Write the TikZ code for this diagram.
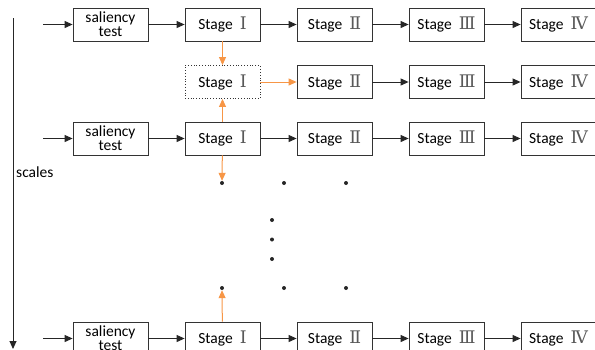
\documentclass[tikz,border=0pt]{standalone}
\usepackage{fontspec}
\setmainfont{Carlito}
\newfontfamily\numfont[Scale=1.12]{DejaVu Serif}
\usetikzlibrary{arrows.meta}
\definecolor{oline}{RGB}{247,150,70}
\begin{document}
\begin{tikzpicture}[x=1pt,y=-1pt,
  box/.style={draw=black!80,line width=0.8pt,minimum width=75pt,minimum height=33pt,inner sep=0pt,font=\fontsize{15.5}{14}\selectfont,align=center},
  dbox/.style={box,dotted,line width=0.9pt},
  arr/.style={line width=1pt,draw=black!85,-{Triangle[length=8pt,width=7pt]}},
  oarr/.style={line width=1pt,draw=oline,-{Triangle[length=8pt,width=7pt]}},
  dot/.style={circle,fill=black!85,inner sep=0pt,minimum size=4pt}]
\useasboundingbox (0,0) rectangle (595,349);
\clip (0,0) rectangle (595,349);
\newcommand{\stg}[1]{Stage\hspace{0.45em}{\numfont\color{black!65}#1}}
% rows
\foreach \r/\yy in {a/24.5,c/138.5,d/338.5}{
  \coordinate (in\r) at (43,\yy);
  \node[box] (s\r) at (110.5,\yy) {saliency\\test};
  \node[box] (one\r) at (222.5,\yy) {\stg{Ⅰ}};
  \node[box] (two\r) at (334.5,\yy) {\stg{Ⅱ}};
  \node[box] (three\r) at (446.5,\yy) {\stg{Ⅲ}};
  \node[box] (four\r) at (558.5,\yy) {\stg{Ⅳ}};
  \draw[arr] (in\r) -- (s\r);
  \draw[arr] (s\r) -- (one\r);
  \draw[arr] (one\r) -- (two\r);
  \draw[arr] (two\r) -- (three\r);
  \draw[arr] (three\r) -- (four\r);
}
% row b
\node[dbox] (oneb) at (222.5,82) {\stg{Ⅰ}};
\node[box] (twob) at (334.5,82) {\stg{Ⅱ}};
\node[box] (threeb) at (446.5,82) {\stg{Ⅲ}};
\node[box] (fourb) at (558.5,82) {\stg{Ⅳ}};
\draw[oarr] (oneb) -- (twob);
\draw[arr] (twob) -- (threeb);
\draw[arr] (threeb) -- (fourb);
\draw[oarr] (onea) -- (oneb);
\draw[oarr] (onec) -- (oneb);
% dots
\node[dot] (d1) at (222,183) {};
\node[dot] (d2) at (284,183) {};
\node[dot] (d3) at (346,183) {};
\node[dot] (v1) at (272,220) {};
\node[dot] (v2) at (272,239.5) {};
\node[dot] (v3) at (272,259) {};
\node[dot] (e1) at (222,288) {};
\node[dot] (e2) at (284,288) {};
\node[dot] (e3) at (346,288) {};
\draw[oarr] (onec) -- (d1);
\draw[oarr] (oned) -- (e1);
% scales axis
\coordinate (st) at (13,18);
\coordinate (en) at (13,349);
\draw[arr] (st) -- (en);
\node[anchor=west,font=\fontsize{15.5}{15}\selectfont,inner sep=0pt] (sc) at (16,172) {scales};
\end{tikzpicture}
\end{document}
